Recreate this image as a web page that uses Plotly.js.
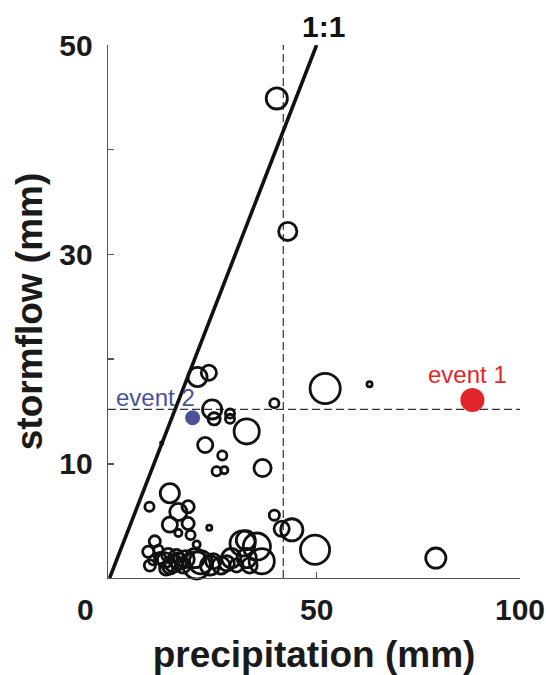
<!DOCTYPE html>
<html>
<head>
<meta charset="utf-8">
<script src="https://cdn.plot.ly/plotly-3.0.1.min.js"></script>
<style>
  html, body { margin: 0; padding: 0; background: #fff; }
  #chart { width: 546px; height: 675px; }
</style>
</head>
<body>
<div id="chart"></div>
<script>
// Storm events: precipitation vs. stormflow, bubble size = event magnitude
const precip = [
  40.2, 42.9, 52.1, 63.0, 39.6, 20.7, 23.5, 24.3, 24.8, 28.7,
  28.7, 32.8, 22.6, 26.8, 25.4, 27.3, 36.7, 11.9, 13.9, 8.9,
  16.0, 18.4, 13.9, 18.4, 16.0, 19.0, 23.6, 20.5, 31.8, 35.3,
  32.6, 36.5, 39.6, 41.4, 43.9, 49.6, 79.3,
  8.6, 9.0, 11.5, 9.8, 14.8, 12.7, 16.0, 17.1, 20.1, 20.5,
  23.8, 24.6, 27.9, 30.3, 32.8, 11.1, 13.5,
  14.0, 15.5, 17.8, 13.0, 21.5, 26.5, 29.0, 33.5, 10.2
];
const stormflow = [
  44.9, 32.2, 17.2, 17.6, 15.8, 18.3, 18.7, 15.2, 14.3, 14.8,
  14.3, 13.1, 11.8, 10.8, 9.3, 9.4, 9.6, 12.0, 7.2, 5.9,
  5.4, 5.9, 4.2, 4.3, 3.4, 3.2, 3.9, 2.3, 2.4, 2.1,
  2.7, 0.7, 5.1, 3.8, 3.7, 1.8, 1.0,
  1.6, 0.3, 1.0, 0.8, 0.5, 0.8, 0.7, 0.3, 1.0, 0.3,
  0.3, 0.7, 0.5, 0.3, 1.0, 1.8, 1.3,
  0.2, 1.2, 0.9, 0.0, 0.6, 0.3, 1.0, 0.3, 2.6
];
const magnitude = [
  24, 21, 33, 8, 12, 22, 18, 22, 15, 12,
  12, 28, 18, 12, 12, 10, 20, 5, 22, 12,
  20, 15, 18, 15, 10, 12, 8, 10, 28, 30,
  22, 28, 13, 18, 25, 32, 23,
  14, 14, 14, 12, 20, 18, 20, 18, 22, 30,
  22, 18, 18, 16, 22, 12, 16,
  18, 16, 20, 16, 26, 20, 22, 18, 14
];

// Highlighted events
const eventNames = ['event 1', 'event 2'];
const eventPrecip = [88.3, 19.5];
const eventFlow = [16.1, 14.4];
const eventMagnitude = [24, 15];
const eventColors = ['#e3262b', '#4a5199'];

// Reference thresholds (dashed guides)
const precipThreshold = 41.8;
const flowThreshold = 15.2;

// Axis ranges and tick labels
const xRange = [-1.3, 100];
const yRange = [-0.9, 50];
const xTickVals = [50, 100];
const xTickText = ['50', '100'];
const yTickVals = [10, 20, 30, 40, 50];
const yTickText = ['10', '', '30', '', '50'];

const FONT = 'Liberation Sans, Arial, Helvetica, sans-serif';
const STROKE = 2.8;

const traces = [
  {
    // vertical precipitation threshold
    x: [precipThreshold, precipThreshold], y: [yRange[0], yRange[1]],
    mode: 'lines', line: { color: '#333', width: 1.2, dash: '8px,4px' },
    hoverinfo: 'skip', showlegend: false
  },
  {
    // horizontal stormflow threshold
    x: [xRange[0], xRange[1]], y: [flowThreshold, flowThreshold],
    mode: 'lines', line: { color: '#333', width: 1.2, dash: '8px,4px' },
    hoverinfo: 'skip', showlegend: false
  },
  {
    // 1:1 line
    x: [yRange[0], yRange[1]], y: [yRange[0], yRange[1]],
    mode: 'lines', line: { color: '#111', width: 3.6 },
    hoverinfo: 'skip', showlegend: false
  },
  {
    x: precip, y: stormflow, mode: 'markers', cliponaxis: false,
    marker: {
      symbol: 'circle-open', color: '#111', opacity: 1,
      size: magnitude.map(m => Math.max(m - STROKE, 1)),
      line: { width: STROKE }
    },
    showlegend: false
  },
  {
    x: eventPrecip, y: eventFlow, mode: 'markers', cliponaxis: false,
    text: eventNames,
    marker: { symbol: 'circle', color: eventColors, opacity: 1, size: eventMagnitude, line: { width: 0 } },
    showlegend: false
  }
];

const layout = {
  width: 546, height: 675,
  margin: { l: 108, r: 26, t: 45, b: 97, pad: 0 },
  paper_bgcolor: '#fff', plot_bgcolor: '#fff',
  showlegend: false,
  font: { family: FONT, color: '#1a1a1a' },
  xaxis: {
    range: xRange, showgrid: false, zeroline: false,
    showline: true, linecolor: '#555', linewidth: 1.3,
    ticks: 'inside', ticklen: 6, tickwidth: 1.3, tickcolor: '#555',
    tickvals: xTickVals, ticktext: xTickText,
    tickfont: { family: FONT, size: 30, color: '#1a1a1a', weight: 'bold' },
    ticklabelstandoff: 5,
    title: { text: '<b>precipitation (mm)</b>', font: { family: FONT, size: 37, color: '#1a1a1a' }, standoff: 18 },
    automargin: false
  },
  yaxis: {
    range: yRange, showgrid: false, zeroline: false,
    showline: true, linecolor: '#555', linewidth: 1.3,
    ticks: 'inside', ticklen: 6, tickwidth: 1.3, tickcolor: '#555',
    tickvals: yTickVals, ticktext: yTickText,
    tickfont: { family: FONT, size: 30, color: '#1a1a1a', weight: 'bold' },
    ticklabelstandoff: 8,
    title: { text: '<b>stormflow (mm)</b>', font: { family: FONT, size: 37, color: '#1a1a1a' }, standoff: 5 },
    automargin: false
  },
  annotations: [
    {
      text: '<b>1:1</b>', x: 0.522, y: 1.0356, xref: 'paper', yref: 'paper',
      xanchor: 'center', yanchor: 'middle',
      showarrow: false, font: { family: FONT, size: 30, color: '#111' }
    },
    {
      text: eventNames[0], x: 87.2, y: 18.5, xref: 'x', yref: 'y',
      showarrow: false, font: { family: FONT, size: 24, color: eventColors[0] }
    },
    {
      text: eventNames[1], x: 10.4, y: 16.3, xref: 'x', yref: 'y',
      showarrow: false, font: { family: FONT, size: 24, color: eventColors[1] }
    },
    {
      // shared origin label
      text: '<b>0</b>', x: 0, y: 0, xref: 'paper', yref: 'paper',
      xanchor: 'right', yanchor: 'middle', xshift: -12, yshift: -31,
      showarrow: false, font: { family: FONT, size: 30, color: '#1a1a1a' }
    }
  ]
};

Plotly.newPlot('chart', traces, layout, { displayModeBar: false, staticPlot: true });
</script>
</body>
</html>
